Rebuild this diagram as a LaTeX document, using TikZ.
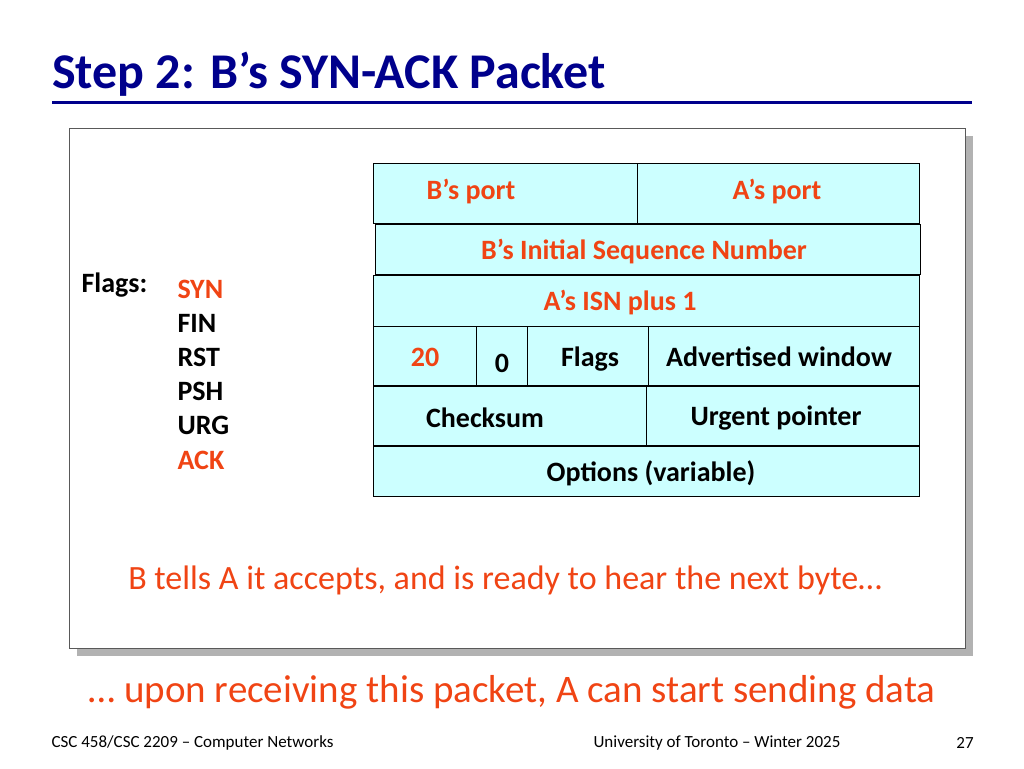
\documentclass[tikz,border=0pt]{standalone}
\usepackage{fontspec}
\setmainfont{Carlito}
\definecolor{titleblue}{RGB}{0,0,140}
\definecolor{flagred}{RGB}{240,68,20}
\definecolor{cellfill}{RGB}{204,255,255}
\tikzset{
  cell/.style={draw, fill=cellfill, inner sep=0pt},
  celltext/.style={font=\fontsize{28}{32}\selectfont\bfseries},
  flag/.style={font=\fontsize{28}{32}\selectfont\bfseries, anchor=west},
  foot/.style={font=\fontsize{17}{20}\selectfont}
}
\begin{document}
\begin{tikzpicture}[x=1pt,y=-1pt]
  \useasboundingbox (0,0) rectangle (1024,768);
  % title and rule
  \node[anchor=base west, text=titleblue, font=\fontsize{50}{56}\selectfont\bfseries, inner sep=0pt] (title) at (52,88) {Step 2: B’s SYN-ACK Packet};
  \draw[titleblue, line width=3pt] (52,102) -- (972,102);
  % frame with shadow
  \fill[gray!60] (77,136) rectangle (973,656);
  \draw[fill=white, draw=gray!70!black] (69,128) rectangle (965,648);
  % header cells
  \draw[cell] (373,163) rectangle (637,223);
  \draw[cell] (637,163) rectangle (919,223);
  \draw[cell] (375,224) rectangle (920,274);
  \draw[cell] (373,275) rectangle (919,326);
  \draw[cell] (373,326) rectangle (476,385);
  \draw[cell] (476,326) rectangle (527,385);
  \draw[cell] (527,326) rectangle (648,385);
  \draw[cell] (648,326) rectangle (919,385);
  \draw[cell] (373,386) rectangle (646,445);
  \draw[cell] (646,386) rectangle (919,445);
  \draw[cell] (373,446) rectangle (919,496);
  % cell texts
  \node[celltext, text=flagred] (bport) at (471,192) {B’s port};
  \node[celltext, text=flagred] (aport) at (777,192) {A’s port};
  \node[celltext, text=flagred] (isn) at (644,252) {B’s Initial Sequence Number};
  \node[celltext, text=flagred] (ack) at (620,303) {A’s ISN plus 1};
  \node[celltext, text=flagred] (hlen) at (425,357) {20};
  \node[celltext] (zero) at (502,363) {0};
  \node[celltext] (flags) at (590,359) {Flags};
  \node[celltext] (window) at (779,357) {Advertised window};
  \node[celltext] (csum) at (485,418) {Checksum};
  \node[celltext] (urgent) at (776,418) {Urgent pointer};
  \node[celltext] (options) at (651,473) {Options (variable)};
  % flags list
  \node[flag] (flaglabel) at (78,285) {Flags:};
  \node[flag, text=flagred] (syn) at (174,289) {SYN};
  \node[flag] (fin) at (174,323) {FIN};
  \node[flag] (rst) at (174,357) {RST};
  \node[flag] (psh) at (174,391) {PSH};
  \node[flag] (urg) at (174,425) {URG};
  \node[flag, text=flagred] (ackf) at (174,460) {ACK};
  % remarks
  \node[text=flagred, font=\fontsize{34}{40}\selectfont] (tells) at (505,580) {B tells A it accepts, and is ready to hear the next byte…};
  \node[text=flagred, font=\fontsize{39}{46}\selectfont] (upon) at (512,692) {… upon receiving this packet, A can start sending data};
  % footer
  \node[foot, anchor=west] (course) at (48,743) {CSC 458/CSC 2209 – Computer Networks};
  \node[foot] (uni) at (717,743) {University of Toronto – Winter 2025};
  \node[foot] (page) at (965,743) {27};
\end{tikzpicture}
\end{document}
